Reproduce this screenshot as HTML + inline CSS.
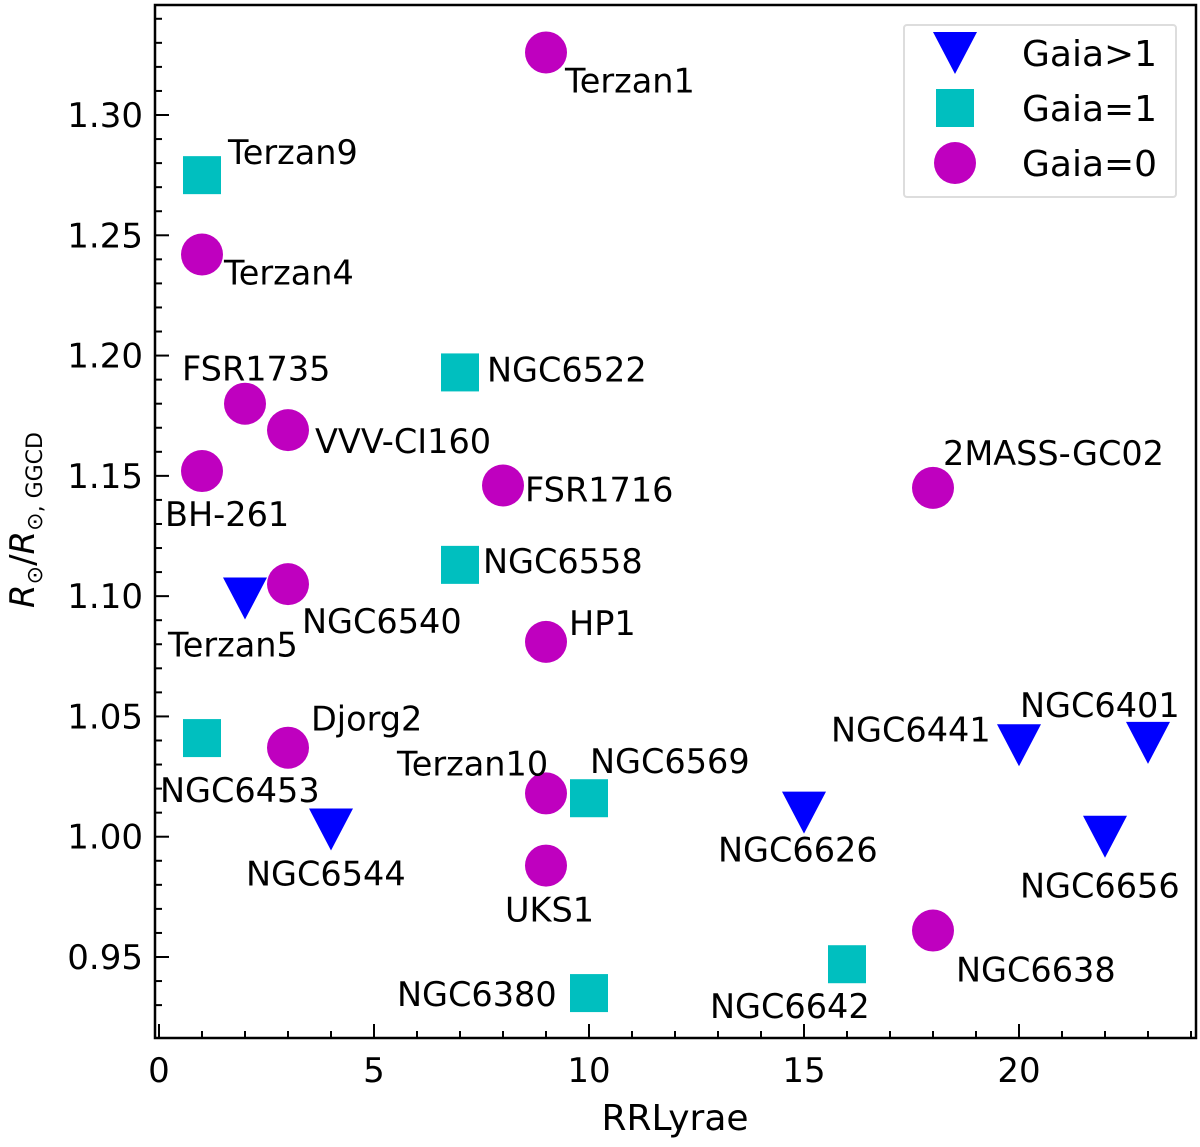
<!DOCTYPE html>
<html><head><meta charset="utf-8"><style>
body{margin:0;background:#fff}
svg{font-family:"DejaVu Sans","Liberation Sans",sans-serif}
</style></head><body>
<svg id="c" width="1200" height="1142" xmlns="http://www.w3.org/2000/svg"></svg>
<script>
const names=["Terzan1","Terzan9","Terzan4","FSR1735","NGC6522","VVV-CI160","BH-261","FSR1716","2MASS-GC02","NGC6558","NGC6540","Terzan5","HP1","NGC6453","Djorg2","NGC6441","NGC6401","Terzan10","NGC6569","NGC6544","NGC6626","NGC6656","UKS1","NGC6638","NGC6642","NGC6380"];
const rrl=[9,1,1,2,7,3,1,8,18,7,3,2,9,1,3,20,23,9,10,4,15,22,9,18,16,10];
const ratio=[1.326,1.275,1.242,1.180,1.193,1.169,1.152,1.146,1.145,1.113,1.105,1.099,1.081,1.041,1.037,1.038,1.039,1.018,1.016,1.003,1.010,1.000,0.988,0.961,0.947,0.935];
const gaia=["0","1","0","0","1","0","0","0","0","1","0","2","0","1","0","2","2","0","1","2","2","2","0","0","1","1"];
const xTicks=[0,5,10,15,20];
const yTicks=[0.95,1.00,1.05,1.10,1.15,1.20,1.25,1.30];
const labelOff=[[19,28],[26,-23],[22,18],[-63,-35],[27,-3],[27,11],[-37,43],[22,4],[10,-35],[23,-4],[14,37],[-77,46],[23,-19],[-42,52],[23,-29],[-188,-16],[-128,-38],[-149,-30],[1,-37],[-85,44],[-86,37],[-85,49],[-41,44],[23,39],[-137,42],[-192,1]];
const svg=document.getElementById('c');const NS="http://www.w3.org/2000/svg";
const L=155,R=1196,T=5,B=1038;
const X=v=>159+43*v, Y=v=>957-(v-0.95)*2405.7;
function el(t,a,p){const e=document.createElementNS(NS,t);for(const k in a)e.setAttribute(k,a[k]);(p||svg).appendChild(e);return e;}
const frame=el('rect',{x:L,y:T,width:R-L,height:B-T,fill:'none',stroke:'#000','stroke-width':2.5});


for(let v=0;v<=24;v++){const t=el('line',{x1:X(v),x2:X(v),y1:B,y2:B-(v%5?7:14),stroke:'#000','stroke-width':2});

}
for(let i=93;i<=134;i++){const v=i/100;const t=el('line',{x1:L,x2:L+(i%5?7:14),y1:Y(v),y2:Y(v),stroke:'#000','stroke-width':2});

}
xTicks.forEach(v=>{const t=el('text',{x:X(v),y:B+44,'font-size':34,'text-anchor':'middle'});t.textContent=v;

});
yTicks.forEach(v=>{const t=el('text',{x:L-12,y:Y(v)+12,'font-size':34,'text-anchor':'end'});t.textContent=v.toFixed(2);

});
const xl=el('text',{x:675,y:1130,'font-size':36,'text-anchor':'middle'});xl.textContent='RRLyrae';


const yl=el('text',{x:0,y:0,'font-size':34,'text-anchor':'middle',transform:'translate(34,520) rotate(-90)'});
yl.innerHTML='<tspan font-style="italic">R</tspan><tspan font-size="22" dy="8">⊙</tspan><tspan dy="-8">/</tspan><tspan font-style="italic">R</tspan><tspan font-size="22" dy="8">⊙, GGCD</tspan>';


function marker(g,cx,cy,p){let m;
 if(g==="0")m=el('circle',{cx:cx,cy:cy,r:21,fill:'#bf00bf'},p);
 else if(g==="1")m=el('rect',{x:cx-19,y:cy-19,width:38,height:38,fill:'#00bfbf'},p);
 else m=el('polygon',{points:`${cx-22},${cy-21} ${cx+22},${cy-21} ${cx},${cy+21}`,fill:'#0000ff'},p);
 return m;}
names.forEach((n,i)=>{const px=X(rrl[i]),py=Y(ratio[i]);
 const m=marker(gaia[i],px,py);
 
 
 const t=el('text',{x:px+labelOff[i][0],y:py+labelOff[i][1]+12,'font-size':33.5});t.textContent=n;
 
 });
const lg=el('g',{});


el('rect',{x:904,y:25,width:272,height:172,rx:3,fill:'#fff',stroke:'#ddd','stroke-width':2},lg);
[["2","Gaia>1",53],["1","Gaia=1",108],["0","Gaia=0",163]].forEach(d=>{marker(d[0],955,d[2],lg);
 const t=el('text',{x:1022,y:d[2]+13,'font-size':36},lg);t.textContent=d[1];
 
 });
</script>
</body></html>
